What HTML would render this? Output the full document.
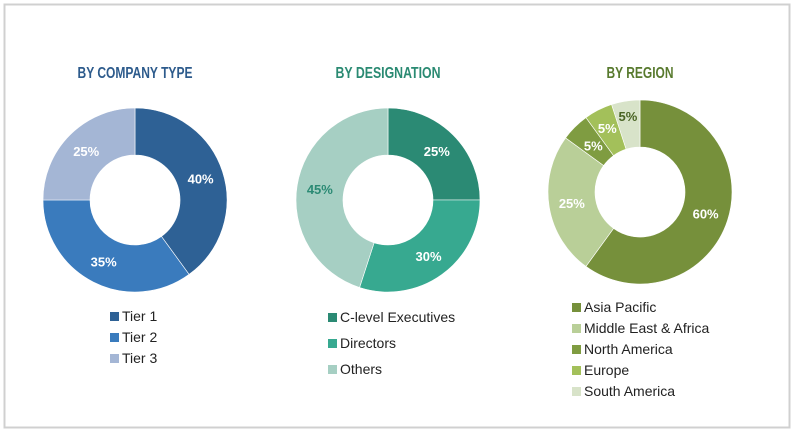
<!DOCTYPE html>
<html><head><meta charset="utf-8"><style>
body{margin:0;background:#fff;}
svg{display:block;font-family:"Liberation Sans",sans-serif;}
.t{font-family:"Liberation Sans Narrow","Liberation Sans",sans-serif;font-weight:bold;font-size:16px;}
.lab{font-weight:bold;font-size:13px;font-family:"Liberation Sans Narrow","Liberation Sans",sans-serif;}
.leg{font-size:14px;fill:#222;}
</style></head><body>
<svg id="c" width="800" height="435">
<rect x="4.5" y="4.5" width="785" height="423" fill="#fff" stroke="#d0d0d0" stroke-width="2"/>
</svg>
<script>
const companyCats=["Tier 1","Tier 2","Tier 3"];
const companyVals=[40,35,25];
const desigCats=["C-level Executives","Directors","Others"];
const desigVals=[25,30,45];
const regionCats=["Asia Pacific","Middle East & Africa","North America","Europe","South America"];
const regionVals=[60,25,5,5,5];

const NS="http://www.w3.org/2000/svg";
const svg=document.getElementById('c');
function mk(tag,attrs,parent){const e=document.createElementNS(NS,tag);for(const k in attrs)e.setAttribute(k,attrs[k]);(parent||svg).appendChild(e);return e;}
function pt(cx,cy,r,a){return [cx+r*Math.sin(a),cy-r*Math.cos(a)];}
function donut(cfg){
  const g=mk('g',{});
  
  
  const t=mk('text',{x:cfg.cx,y:78,'text-anchor':'middle','class':'t',fill:cfg.titleColor,textLength:cfg.tw,lengthAdjust:'spacingAndGlyphs'},g);
  t.textContent=cfg.title;
  
  
  const total=cfg.vals.reduce((a,b)=>a+b,0);
  let a0=0;const R=92,r=45;
  cfg.vals.forEach((v,i)=>{
    const a1=a0+v/total*2*Math.PI;
    const large=(a1-a0)>Math.PI?1:0;
    const p1=pt(cfg.cx,cfg.cy,R,a0),p2=pt(cfg.cx,cfg.cy,R,a1),p3=pt(cfg.cx,cfg.cy,r,a1),p4=pt(cfg.cx,cfg.cy,r,a0);
    const d=`M${p1}A${R},${R} 0 ${large} 1 ${p2}L${p3}A${r},${r} 0 ${large} 0 ${p4}Z`;
    const s=mk('path',{d:d,fill:cfg.colors[i],stroke:'#fff','stroke-width':0.6},g);
    
    
    const am=(a0+a1)/2;const lp=pt(cfg.cx,cfg.cy,cfg.labR?cfg.labR[i]:69,am);
    const lt=mk('text',{x:lp[0],y:lp[1]+5,'text-anchor':'middle','class':'lab',fill:cfg.labColors[i]},g);
    lt.textContent=v+'%';
    
    
    a0=a1;
  });
  cfg.cats.forEach((c,i)=>{
    const y=cfg.ly+i*cfg.lstep;
    const e=mk('g',{},g);
    
    
    mk('rect',{x:cfg.lx,y:y-9,width:9,height:9,fill:cfg.colors[i]},e);
    const tx=mk('text',{x:cfg.lx+12,y:y,'class':'leg'},e);
    tx.textContent=c;
  });
}
donut({key:'company',title:'BY COMPANY TYPE',tw:115,titleColor:'#2d5b8c',cx:135,cy:200,vals:companyVals,cats:companyCats,
 colors:['#2e6195','#3a7bbd','#a4b6d5'],labColors:['#fff','#fff','#fff'],lx:110,ly:321,lstep:21});
donut({key:'designation',title:'BY DESIGNATION',tw:105,titleColor:'#2a8a72',cx:388,cy:200,vals:desigVals,cats:desigCats,
 colors:['#2b8a74','#37a990','#a6cfc3'],labColors:['#fff','#fff','#2b8a74'],lx:328,ly:322,lstep:26});
donut({key:'region',title:'BY REGION',tw:67,titleColor:'#587a2e',cx:640,cy:192,vals:regionVals,cats:regionCats,
 colors:['#76903b','#b9cf98','#7f9c41','#a3c05a','#d8e3c9'],labColors:['#fff','#fff','#fff','#fff','#4a6424'],
 labR:[69,69,66,72,77],lx:572,ly:312,lstep:21});
</script>
</body></html>
